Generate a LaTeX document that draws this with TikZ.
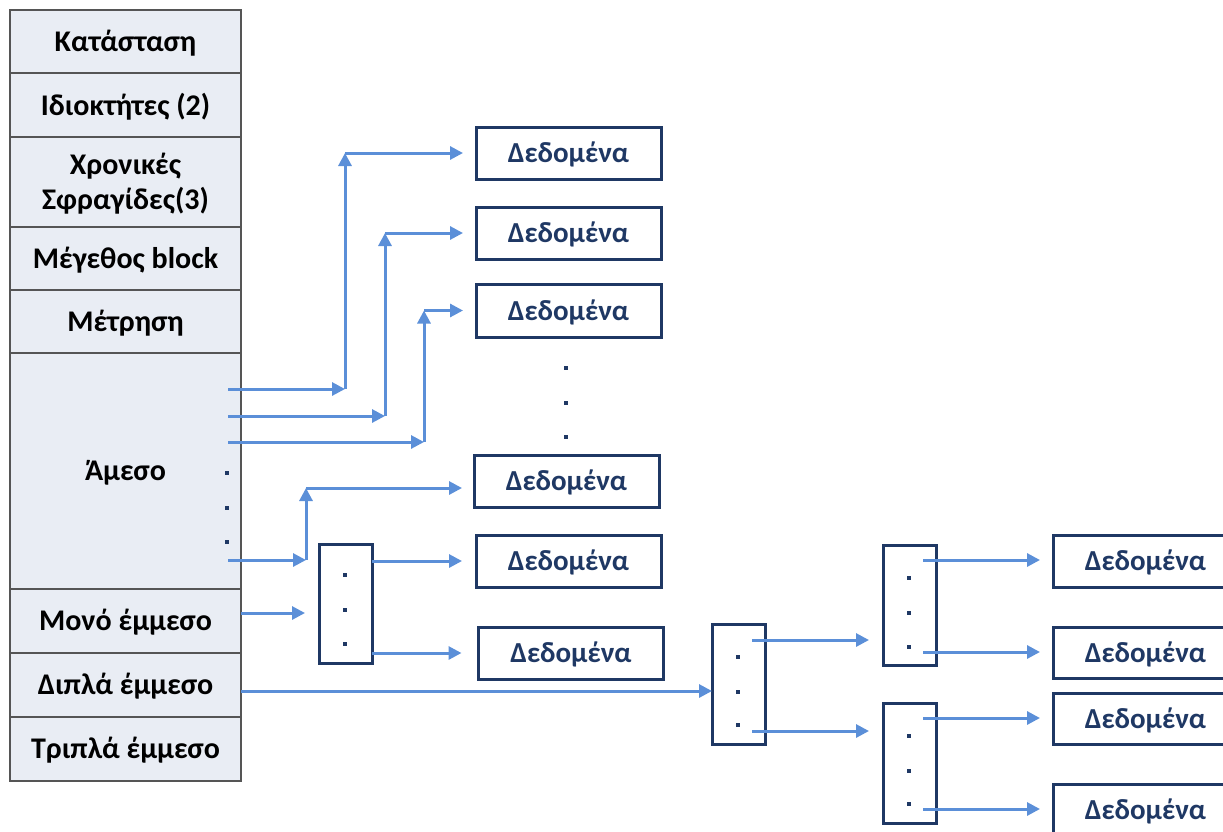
\documentclass[tikz,border=0pt]{standalone}
\usepackage{fontspec}
\setmainfont{Carlito}
\usetikzlibrary{arrows.meta}

\definecolor{cellfill}{HTML}{E9EDF4}
\definecolor{cellline}{HTML}{555555}
\definecolor{navy}{HTML}{1F3864}
\definecolor{arrowblue}{HTML}{5B8FD8}

\tikzset{
  cell/.style={draw=cellline, line width=2pt, fill=cellfill,
    minimum width=231pt, inner sep=0pt, outer sep=0pt, align=center,
    text depth=2pt, font=\fontsize{30}{35}\selectfont\bfseries},
  databox/.style={draw=navy, line width=3pt, minimum width=185pt,
    minimum height=52pt, inner sep=0pt, outer sep=0pt, text=navy,
    text depth=1pt, font=\fontsize{29}{34}\selectfont\bfseries},
  ptrbox/.style={draw=navy, line width=3pt, minimum width=53pt,
    minimum height=120pt, inner sep=0pt, outer sep=0pt},
  dot/.style={fill=navy, minimum size=4pt, inner sep=0pt, outer sep=0pt},
  link/.style={draw=arrowblue, line width=3pt,
    -{Triangle[length=13pt,width=13pt]}},
}

\begin{document}
\begin{tikzpicture}[x=1pt,y=-1pt]
\useasboundingbox (0,0) rectangle (1223,831);

% ---- inode table ----
\node[cell, minimum height=63pt] (r1) at (125.5,41.5) {Κατάσταση};
\node[cell, minimum height=64pt] (r2) at (125.5,105) {Ιδιοκτήτες (2)};
\node[cell, minimum height=90pt] (r3) at (125.5,182) {Χρονικές\\Σφραγίδες(3)};
\node[cell, minimum height=63pt] (r4) at (125.5,258.5) {Μέγεθος block};
\node[cell, minimum height=63pt] (r5) at (125.5,321.5) {Μέτρηση};
\node[cell, minimum height=236pt] (r6) at (125.5,471) {Άμεσο};
\node[cell, minimum height=64pt] (r7) at (125.5,621) {Μονό έμμεσο};
\node[cell, minimum height=64pt] (r8) at (125.5,685) {Διπλά έμμεσο};
\node[cell, minimum height=64pt] (r9) at (125.5,749) {Τριπλά έμμεσο};

% dots inside the direct-pointer cell
\node[dot] (ad1) at (227,473) {};
\node[dot] (ad2) at (227,508) {};
\node[dot] (ad3) at (227,542) {};

% ---- data blocks ----
\node[databox] (b1) at (568.5,153) {Δεδομένα};
\node[databox] (b2) at (568.5,233) {Δεδομένα};
\node[databox, minimum height=53pt] (b3) at (568.5,310.5) {Δεδομένα};
\node[databox] (b4) at (566.5,481) {Δεδομένα};
\node[databox] (b5) at (568.5,561) {Δεδομένα};
\node[databox] (b6) at (571,653) {Δεδομένα};
\node[databox] (q1) at (1145.5,561) {Δεδομένα};
\node[databox, minimum height=51pt] (q2) at (1145.5,652.5) {Δεδομένα};
\node[databox, minimum height=51pt] (q3) at (1145.5,718.5) {Δεδομένα};
\node[databox] (q4) at (1145.5,810) {Δεδομένα};

\node[dot] (md1) at (566,368) {};
\node[dot] (md2) at (566,403) {};
\node[dot] (md3) at (566,437) {};

% ---- indirect pointer blocks ----
\node[ptrbox, minimum height=119pt] (p1) at (345.5,603.5) {};
\node[ptrbox] (p2) at (738.5,684) {};
\node[ptrbox] (p3) at (909.5,605) {};
\node[ptrbox] (p4) at (909.5,763) {};

\foreach \y [count=\i] in {575,610,644} \node[dot] (p1d\i) at (345,\y) {};
\foreach \y [count=\i] in {657,692,725} \node[dot] (p2d\i) at (738,\y) {};
\foreach \y [count=\i] in {578,613,647} \node[dot] (p3d\i) at (909,\y) {};
\foreach \y [count=\i] in {736,771,804} \node[dot] (p4d\i) at (909,\y) {};

% ---- direct pointers ----
\coordinate (a1s) at (228,389); \coordinate (a1k) at (345,389); \coordinate (a1t) at (345,153);
\coordinate (a2s) at (228,416); \coordinate (a2k) at (385,416); \coordinate (a2t) at (385,233);
\coordinate (a3s) at (228,442); \coordinate (a3k) at (424,442); \coordinate (a3t) at (424,310.5);
\coordinate (a4s) at (228,560); \coordinate (a4k) at (306,560); \coordinate (a4t) at (306,488);

\draw[link] (a1s) -- (a1k);
\draw[link] (a1k) -- (a1t);
\draw[link] (a1t) -- ([xshift=-13pt]b1.west);
\draw[link] (a2s) -- (a2k);
\draw[link] (a2k) -- (a2t);
\draw[link] (a2t) -- ([xshift=-13pt]b2.west);
\draw[link] (a3s) -- (a3k);
\draw[link] (a3k) -- (a3t);
\draw[link] (a3t) -- ([xshift=-13pt]b3.west);
\draw[link] (a4s) -- (a4k);
\draw[link] (a4k) -- (a4t);
\draw[link] (a4t) -- ([xshift=-12pt]b4.west |- a4t);

% ---- single indirect ----
\draw[link] ([yshift=8pt]r7.east) -- ([xshift=-14pt]p1.west |- 0,613);
\draw[link] (p1.east |- b5) -- ([xshift=-14pt]b5.west);
\draw[link] (p1.east |- b6) -- ([xshift=-17pt]b6.west);

% ---- double indirect ----
\draw[link] ([yshift=-6pt]r8.east) -- (p2.west |- 0,691);
\coordinate (s21) at (752,640); \coordinate (s22) at (752,731);
\draw[link] (s21) -- ([xshift=-14pt]p3.west |- s21);
\draw[link] (s22) -- ([xshift=-14pt]p4.west |- s22);

\coordinate (s31) at (923,560); \coordinate (s32) at (923,652);
\coordinate (s41) at (923,718); \coordinate (s42) at (923,809);
\draw[link] (s31) -- ([xshift=-13pt]q1.west |- s31);
\draw[link] (s32) -- ([xshift=-13pt]q2.west |- s32);
\draw[link] (s41) -- ([xshift=-13pt]q3.west |- s41);
\draw[link] (s42) -- ([xshift=-13pt]q4.west |- s42);
\end{tikzpicture}
\end{document}
